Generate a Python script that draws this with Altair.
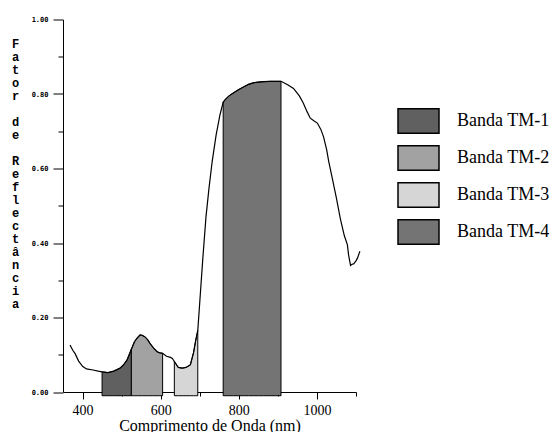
import altair as alt
import pandas as pd

# Spectral reflectance curve of green vegetation
wavelength = [368, 375, 381, 390, 400, 410, 427, 440, 450, 465, 480, 496, 505, 514,
              525, 533, 540, 547, 553, 560, 567, 573, 582, 591, 598, 605, 615, 625,
              630, 635, 645, 655, 665, 676, 684, 690, 695, 700, 708, 716, 724, 732,
              742, 752, 760, 765, 775, 786, 800, 812, 825, 837, 850, 863, 880, 895,
              908, 925, 940, 955, 965, 975, 983, 992, 1001, 1010, 1017, 1025, 1030,
              1040, 1050, 1060, 1070, 1078, 1081, 1086, 1090, 1094, 1100, 1104, 1110]
reflectance = [0.126, 0.112, 0.103, 0.083, 0.069, 0.062, 0.059, 0.056, 0.054, 0.052,
               0.056, 0.064, 0.073, 0.086, 0.115, 0.135, 0.145, 0.153, 0.152, 0.148,
               0.140, 0.130, 0.118, 0.108, 0.105, 0.104, 0.096, 0.093, 0.090, 0.082,
               0.066, 0.064, 0.066, 0.073, 0.105, 0.140, 0.165, 0.240, 0.360, 0.470,
               0.550, 0.620, 0.690, 0.745, 0.778, 0.785, 0.795, 0.803, 0.812, 0.819,
               0.826, 0.830, 0.832, 0.833, 0.834, 0.834, 0.834, 0.825, 0.815, 0.795,
               0.776, 0.752, 0.735, 0.728, 0.722, 0.705, 0.685, 0.650, 0.620, 0.570,
               0.520, 0.465, 0.420, 0.395, 0.368, 0.340, 0.343, 0.344, 0.352, 0.360,
               0.378]

# Landsat TM bands
band_names = ["Banda TM-1", "Banda TM-2", "Banda TM-3", "Banda TM-4"]
band_start = [450, 525, 635, 760]
band_end = [525, 605, 695, 908]
band_fill = ["#606060", "#a2a2a2", "#d6d6d6", "#747474"]
band_floor = -0.01

x_ticks = [400, 500, 600, 700, 800, 900, 1000, 1100]
y_ticks = [0.0, 0.1, 0.2, 0.3, 0.4, 0.5, 0.6, 0.7, 0.8, 0.9, 1.0]

# vertical axis title, one upright character per line (word gaps kept as blank lines)
y_title = [c if c != " " else "\u2800" for c in "Fator de Reflectância"]

curve = pd.DataFrame({"nm": wavelength, "r": reflectance})

rows = []
for name, lo, hi in zip(band_names, band_start, band_end):
    for nm, r in zip(wavelength, reflectance):
        if lo <= nm <= hi:
            rows.append({"band": name, "nm": nm, "r": r, "base": band_floor})
bands = pd.DataFrame(rows)

x_scale = alt.Scale(domain=[350, 1100], nice=False, zero=False)
y_scale = alt.Scale(domain=[0, 1], nice=False)

x_axis = alt.Axis(
    values=x_ticks,
    labelExpr="datum.value % 200 === 0 ? datum.label : ''",
    format="d",
    title="Comprimento de Onda (nm)",
    titleFont="Liberation Serif", titleFontSize=16, titleFontWeight="normal",
    titleColor="black", titleBaseline="alphabetic", titleY=38,
    labelFont="Liberation Serif", labelFontSize=14,
    labelColor="black", labelPadding=4,
    tickSize={"condition": {"test": "datum.value % 200 === 0", "value": 7}, "value": 4},
    tickColor="black", domainColor="black", grid=False,
)

y_axis = alt.Axis(
    values=y_ticks,
    labelExpr="round(datum.value * 10) % 2 === 0 ? format(datum.value, '.2f') : ''",
    title=y_title,
    titleAngle=0, titleAlign="center", titleBaseline="top",
    titleX=-48, titleY=19, titleLineHeight=13,
    titleFont="Liberation Mono", titleFontSize=12, titleFontWeight="bold",
    titleColor="black",
    labelFont="DejaVu Sans Mono", labelFontSize=7, labelFontWeight="bold",
    labelColor="black", labelPadding=5,
    tickSize={"condition": {"test": "round(datum.value * 10) % 2 === 0", "value": 10}, "value": 5},
    tickColor="black", domainColor="black", grid=False,
)

areas = alt.Chart(bands).mark_area(
    stroke="black", strokeWidth=1, interpolate="linear"
).encode(
    x=alt.X("nm:Q", scale=x_scale, axis=x_axis),
    y=alt.Y("r:Q", scale=y_scale, axis=y_axis),
    y2="base:Q",
    color=alt.Color(
        "band:N",
        scale=alt.Scale(domain=band_names, range=band_fill),
        legend=alt.Legend(
            title=None, orient="none", legendX=334, legendY=80,
            symbolType="M-1,-0.6H1V0.6H-1Z", symbolSize=1681,
            symbolStrokeColor="black", symbolStrokeWidth=1.5,
            symbolOpacity=1, rowPadding=0, padding=0,
            labelFont="Liberation Serif", labelFontSize=18, labelColor="black",
            labelOffset=17, labelLimit=200,
        ),
    ),
)

line = alt.Chart(curve).mark_line(color="black", strokeWidth=1.2, clip=False).encode(
    x=alt.X("nm:Q", scale=x_scale, axis=x_axis),
    y=alt.Y("r:Q", scale=y_scale, axis=y_axis),
)

chart = alt.layer(areas, line).properties(
    width=293, height=372.5,
    autosize=alt.AutoSizeParams(type="none"),
    padding={"left": 63, "top": 19.5, "right": 200, "bottom": 40},
    background="white",
).configure_view(stroke=None)

chart.save("out.html", embed_options={"renderer": "svg", "actions": False})
